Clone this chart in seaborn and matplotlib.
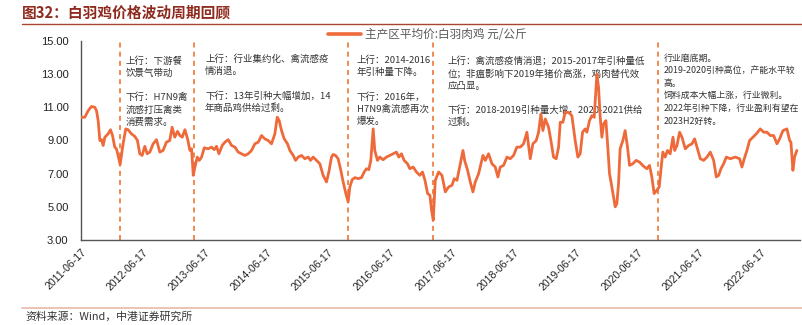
import matplotlib
matplotlib.use("Agg")
import matplotlib.pyplot as plt
import seaborn as sns
import pandas as pd

# ---------------- data ----------------
year_pos = [
    2011.460, 2011.519, 2011.573, 2011.627, 2011.681, 2011.708, 2011.735, 2011.762, 2011.789, 2011.816,
    2011.843, 2011.896, 2011.934, 2011.967, 2012.004, 2012.031, 2012.058, 2012.091, 2012.139, 2012.182,
    2012.220, 2012.274, 2012.328, 2012.371, 2012.409, 2012.447, 2012.490, 2012.528, 2012.571, 2012.625,
    2012.679, 2012.733, 2012.786, 2012.840, 2012.894, 2012.932, 2012.975, 2013.018, 2013.056, 2013.094,
    2013.137, 2013.180, 2013.218, 2013.245, 2013.272, 2013.299, 2013.337, 2013.369, 2013.407, 2013.450,
    2013.515, 2013.569, 2013.612, 2013.649, 2013.687, 2013.741, 2013.784, 2013.838, 2013.892, 2013.946,
    2014.000, 2014.054, 2014.108, 2014.162, 2014.216, 2014.270, 2014.324, 2014.378, 2014.431, 2014.485,
    2014.539, 2014.593, 2014.631, 2014.663, 2014.701, 2014.744, 2014.798, 2014.836, 2014.890, 2014.928,
    2014.971, 2015.025, 2015.079, 2015.133, 2015.170, 2015.214, 2015.268, 2015.321, 2015.375, 2015.429,
    2015.467, 2015.510, 2015.537, 2015.575, 2015.618, 2015.661, 2015.699, 2015.742, 2015.780, 2015.807,
    2015.845, 2015.888, 2015.942, 2015.996, 2016.039, 2016.077, 2016.114, 2016.147, 2016.185, 2016.211,
    2016.255, 2016.292, 2016.346, 2016.400, 2016.454, 2016.508, 2016.562, 2016.600, 2016.643, 2016.686,
    2016.740, 2016.778, 2016.832, 2016.886, 2016.940, 2016.983, 2017.021, 2017.064, 2017.101, 2017.128,
    2017.155, 2017.188, 2017.242, 2017.296, 2017.350, 2017.404, 2017.458, 2017.495, 2017.539, 2017.592,
    2017.636, 2017.663, 2017.711, 2017.754, 2017.797, 2017.835, 2017.889, 2017.959, 2017.997, 2018.051,
    2018.105, 2018.159, 2018.202, 2018.240, 2018.294, 2018.348, 2018.401, 2018.455, 2018.509, 2018.563,
    2018.617, 2018.671, 2018.725, 2018.768, 2018.822, 2018.860, 2018.898, 2018.930, 2018.968, 2019.022,
    2019.060, 2019.103, 2019.146, 2019.184, 2019.211, 2019.254, 2019.291, 2019.345, 2019.399, 2019.453,
    2019.496, 2019.534, 2019.572, 2019.615, 2019.642, 2019.685, 2019.723, 2019.761, 2019.804, 2019.831,
    2019.858, 2019.885, 2019.912, 2019.950, 2019.977, 2020.009, 2020.047, 2020.101, 2020.128, 2020.155,
    2020.181, 2020.225, 2020.262, 2020.300, 2020.333, 2020.387, 2020.440, 2020.494, 2020.559, 2020.613,
    2020.656, 2020.694, 2020.731, 2020.775, 2020.813, 2020.845, 2020.872, 2020.910, 2020.947, 2020.990,
    2021.034, 2021.061, 2021.098, 2021.141, 2021.179, 2021.233, 2021.287, 2021.341, 2021.384, 2021.422,
    2021.476, 2021.530, 2021.584, 2021.638, 2021.692, 2021.735, 2021.773, 2021.810, 2021.854, 2021.897,
    2021.961, 2022.042, 2022.112, 2022.150, 2022.188, 2022.231, 2022.274, 2022.328, 2022.382, 2022.447,
    2022.501, 2022.555, 2022.609, 2022.663, 2022.717, 2022.760, 2022.814, 2022.878, 2022.922, 2022.943,
    2022.975, 2023.002, 2023.040,
]
price = [
    10.40, 10.40, 10.80, 11.05, 11.00, 10.80, 10.20, 9.00, 9.05, 8.70,
    9.20, 9.40, 9.65, 9.30, 8.60, 8.50, 8.10, 7.55, 8.80, 9.70,
    9.65, 9.40, 9.25, 9.00, 8.20, 8.10, 8.65, 8.20, 8.30, 8.80,
    9.05, 8.30, 8.40, 8.90, 9.00, 9.80, 9.20, 9.55, 9.30, 9.20,
    9.65, 9.10, 8.40, 8.50, 6.90, 7.40, 8.00, 7.80, 8.00, 8.56,
    8.50, 8.60, 8.45, 8.65, 8.20, 8.70, 8.90, 9.05, 8.70, 8.60,
    8.30, 8.20, 8.10, 8.20, 8.40, 8.80, 8.90, 9.30, 9.10, 9.00,
    8.80, 9.40, 10.40, 10.20, 9.60, 9.10, 8.80, 8.40, 8.10, 7.80,
    8.00, 8.10, 7.90, 8.00, 7.80, 8.00, 7.80, 7.60, 6.90, 6.50,
    7.10, 8.00, 8.16, 8.10, 7.90, 7.20, 6.50, 5.80, 5.30, 6.20,
    6.64, 6.76, 6.70, 6.76, 7.10, 7.30, 7.24, 7.80, 9.70, 8.40,
    7.80, 8.00, 7.84, 8.00, 8.10, 8.20, 8.30, 8.00, 8.20, 7.80,
    7.60, 7.30, 7.40, 7.10, 6.90, 7.10, 6.60, 5.80, 5.70, 4.80,
    4.20, 6.60, 7.10, 6.90, 5.90, 6.20, 6.30, 6.70, 6.60, 7.60,
    8.40, 7.80, 7.20, 6.50, 5.90, 6.50, 7.00, 8.10, 7.80, 8.20,
    7.60, 7.40, 6.80, 7.40, 7.50, 8.00, 7.90, 8.10, 8.60, 8.60,
    8.80, 9.50, 7.90, 8.80, 9.00, 9.50, 10.60, 9.60, 10.30, 9.80,
    9.00, 8.00, 7.90, 8.60, 10.10, 10.10, 10.70, 10.70, 10.50, 9.00,
    8.00, 8.20, 9.50, 9.70, 9.50, 10.20, 10.50, 10.40, 13.00, 12.20,
    10.40, 9.20, 10.00, 10.20, 8.80, 7.00, 6.20, 5.00, 5.20, 6.40,
    8.50, 9.00, 9.60, 8.60, 7.50, 7.60, 7.80, 7.70, 7.45, 7.30,
    7.50, 6.80, 5.80, 6.00, 6.20, 7.40, 8.30, 8.00, 8.40, 8.20,
    9.20, 8.40, 8.70, 9.50, 9.20, 8.50, 8.70, 8.80, 9.10, 8.60,
    7.90, 7.80, 8.00, 8.30, 7.80, 6.80, 6.90, 7.30, 7.60, 8.00,
    7.90, 8.00, 7.90, 7.40, 7.90, 8.40, 9.00, 9.20, 9.40, 9.70,
    9.50, 9.50, 9.30, 9.30, 8.80, 9.10, 9.60, 9.70, 9.00, 8.90,
    7.20, 8.00, 8.40,
]
cycle_breaks = ["2012-02-05", "2013-04-16", "2015-10-12", "2017-02-27", "2020-10-16"]
tick_dates = ["2011-06-17", "2012-06-17", "2013-06-17", "2014-06-17", "2015-06-17", "2016-06-17",
              "2017-06-17", "2018-06-17", "2019-06-17", "2020-06-17", "2021-06-17", "2022-06-17"]
y_ticks = [3, 5, 7, 9, 11, 13, 15]
series_name = "主产区平均价:白羽肉鸡 元/公斤"
title = "图32：白羽鸡价格波动周期回顾"
source = "资料来源：Wind，中港证券研究所"
notes = [
    ["上行：下游餐", "饮景气带动", "", "下行：H7N9禽", "流感打压禽类", "消费需求。"],
    ["上行：行业集约化、禽流感疫", "情消退。", "", "下行：13年引种大幅增加，14", "年商品鸡供给过剩。"],
    ["上行：2014-2016", "年引种量下降。", "", "下行：2016年，", "H7N9禽流感再次", "爆发。"],
    ["上行：禽流感疫情消退；2015-2017年引种量低", "位；非瘟影响下2019年猪价高涨，鸡肉替代效", "应凸显。", "",
     "下行：2018-2019引种量大增，2020-2021供给", "过剩。"],
    ["行业磨底期。", "2019-2020引种高位，产能水平较", "高。", "饲料成本大幅上涨，行业微利。",
     "2022年引种下降，行业盈利有望在", "2023H2好转。"],
]

# ---------------- helpers ----------------
def yr_to_date(y):
    yr = int(y)
    return pd.Timestamp(yr, 1, 1) + pd.Timedelta(days=(y - yr) * 365.25)

df = pd.DataFrame({"date": [yr_to_date(v) for v in year_pos], "price": price})

sns.set_style("white")
plt.rcParams["font.family"] = ["Noto Sans CJK SC", "DejaVu Sans"]
plt.rcParams["axes.unicode_minus"] = False

W, H = 803, 325
fig = plt.figure(figsize=(W / 100, H / 100), dpi=100)
fig.patch.set_facecolor("white")

def fx(px):
    return px / W

def fy(py):
    return 1 - py / H

ax = fig.add_axes([fx(81), fy(240), fx(800) - fx(81), fy(41) - fy(240)])

line_color = "#EE6A3A"
sns.lineplot(data=df, x="date", y="price", ax=ax, color=line_color, lw=2.0,
             label=series_name, legend=False, zorder=3)

for d in cycle_breaks:
    ax.axvline(pd.Timestamp(d), color="#EE7733", lw=1.2, ls=(0, (3, 2.5)), zorder=2)

ax.set_ylim(3, 15)
ax.set_yticks(y_ticks)
ax.set_yticklabels([f"{v:.2f}" for v in y_ticks], fontsize=8, family="Liberation Sans", color="#222222")
ax.set_xlim(pd.Timestamp("2011-06-17"), pd.Timestamp("2023-02-03"))
ax.set_xticks([pd.Timestamp(d) for d in tick_dates])
ax.set_xticklabels(tick_dates, rotation=45, ha="right", rotation_mode="anchor",
                   fontsize=7.6, family="Liberation Sans", color="#222222")
ax.set_xlabel("")
ax.set_ylabel("")
for s in ["top", "right"]:
    ax.spines[s].set_visible(False)
for s in ["left", "bottom"]:
    ax.spines[s].set_color("#555555")
    ax.spines[s].set_linewidth(1.0)
ax.tick_params(axis="both", which="both", direction="out", length=3, width=0.8, color="#555555", pad=2)
ax.tick_params(axis="y", pad=6)
ax.grid(False)

# legend
leg = fig.legend(handles=ax.get_lines()[:1], labels=[series_name], loc="center left",
                 bbox_to_anchor=(fx(328), fy(35)), frameon=False, fontsize=8.4,
                 handlelength=2.8, handletextpad=0.35, borderpad=0, borderaxespad=0)
for t in leg.get_texts():
    t.set_color("#595959")
leg.get_lines()[0].set_linewidth(2.6)

# annotations (drawn under the data line)
note_pos = [(126, 61, 12.2, 6.8), (205, 59, 12.4, 6.8), (357, 60, 12.3, 6.8),
            (448, 62, 12.0, 6.8), (664, 58, 12.6, 6.4)]
for (x0, y0, step, fs), lines in zip(note_pos, notes):
    for i, s in enumerate(lines):
        if not s:
            continue
        ax.text(fx(x0), fy(y0 + i * step), s, transform=fig.transFigure, fontsize=fs,
                color="#333333", va="center", ha="left", zorder=1, clip_on=False)

# title and rules
fig.text(fx(22), fy(13), title, fontsize=10.6, fontweight="bold", color="#8E2A1E", va="center", ha="left")
fig.add_artist(plt.Line2D([fx(22), 1], [fy(23.5), fy(23.5)], transform=fig.transFigure,
                          color="#A8452F", lw=1.0))
fig.add_artist(plt.Line2D([fx(22), 1], [fy(308), fy(308)], transform=fig.transFigure,
                          color="#E9B9A8", lw=1.2))
fig.text(fx(25), fy(317), source, fontsize=7.8, style="italic", color="#333333", va="center", ha="left")

fig.savefig("out.png", dpi=100, facecolor="white")
